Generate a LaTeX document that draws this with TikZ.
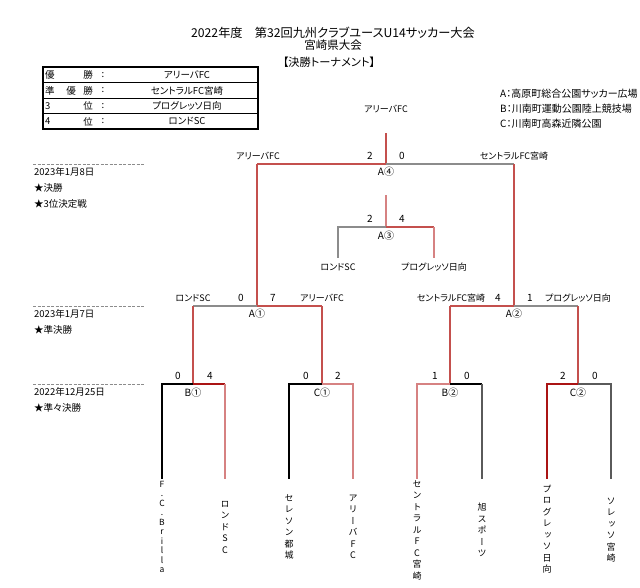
\documentclass[tikz,border=0pt]{standalone}
\usepackage{fontspec}
\setmainfont{Noto Sans CJK JP}[RawFeature={+palt}]
\newfontfamily\vfont{Noto Sans CJK JP}[RawFeature={+vert}]
\definecolor{wred}{RGB}{196,80,77}
\definecolor{lred}{RGB}{214,130,130}
\definecolor{dred}{RGB}{170,20,20}
\definecolor{lgray}{RGB}{140,140,140}
\definecolor{dgray}{RGB}{90,90,90}
\tikzset{
  br/.style={line width=1.3pt},
  lbl/.style={inner sep=0pt,font=\fontsize{9}{10}\selectfont},
  sc/.style={inner sep=0pt,font=\fontsize{10}{11}\selectfont},
  side/.style={inner sep=0pt,anchor=west,font=\fontsize{9.5}{11}\selectfont},
  tbl/.style={inner sep=0pt,font=\fontsize{9.5}{11}\selectfont},
  vname/.style={inner sep=0pt,align=center,font=\vfont\fontsize{9}{11.5}\selectfont},
  sep/.style={lgray,line width=0.8pt,dash pattern=on 3pt off 1.5pt}
}
\begin{document}
\begin{tikzpicture}[x=1pt,y=-1pt]
\useasboundingbox (0,0) rectangle (640,587);
% titles
\node[inner sep=0pt,font=\fontsize{12.2}{13}\selectfont] (t1) at (333,33) {2022年度　第32回九州クラブユースU14サッカー大会};
\node[inner sep=0pt,font=\fontsize{11.5}{13}\selectfont] (t2) at (333,45) {宮崎県大会};
\node[inner sep=0pt,font=\fontsize{11.2}{12}\selectfont] (t3) at (329,62) {【決勝トーナメント】};
% results table
\draw[line width=1.2pt] (43,67) rectangle (258,129);
\foreach \yy in {82.5,98,113.5} \draw[line width=0.6pt] (43,\yy) -- (258,\yy);
\node[tbl,anchor=west] (r1a) at (45,75) {優};
\node[tbl] (r1b) at (88,75) {勝};
\node[tbl] (r1c) at (103,75) {:};
\node[tbl] (r1d) at (187,75) {アリーバFC};
\node[tbl,anchor=west] (r2a) at (45,90.5) {準};
\node[tbl] (r2e) at (71,90.5) {優};
\node[tbl] (r2b) at (88,90.5) {勝};
\node[tbl] (r2c) at (103,90.5) {:};
\node[tbl] (r2d) at (187,90.5) {セントラルFC宮崎};
\node[tbl,anchor=west] (r3a) at (45,106) {3};
\node[tbl] (r3b) at (88,106) {位};
\node[tbl] (r3c) at (103,106) {:};
\node[tbl] (r3d) at (187,106) {プログレッソ日向};
\node[tbl,anchor=west] (r4a) at (45,121.5) {4};
\node[tbl] (r4b) at (88,121.5) {位};
\node[tbl] (r4c) at (103,121.5) {:};
\node[tbl] (r4d) at (187,121.5) {ロンドSC};
% legend
\node[side,font=\fontsize{10}{11}\selectfont] (lA) at (500,94) {A：高原町総合公園サッカー広場};
\node[side,font=\fontsize{10}{11}\selectfont] (lB) at (500,109) {B：川南町運動公園陸上競技場};
\node[side,font=\fontsize{10}{11}\selectfont] (lC) at (500,124) {C：川南町高森近隣公園};
% left column
\draw[sep] (33,164) -- (145,164);
\draw[sep] (33,306) -- (145,306);
\draw[sep] (33,384) -- (145,384);
\node[side] (d1) at (34,172) {2023年1月8日};
\node[side] (d1a) at (34,188) {★決勝};
\node[side] (d1b) at (34,204) {★3位決定戦};
\node[side] (d2) at (34,314) {2023年1月7日};
\node[side] (d2a) at (34,330) {★準決勝};
\node[side] (d3) at (34,392) {2022年12月25日};
\node[side] (d3a) at (34,408) {★準々決勝};
% bracket coordinates
\coordinate (Ftop) at (386,133);
\coordinate (F) at (386,164);
\coordinate (FL) at (257,164);
\coordinate (FR) at (514,164);
\coordinate (SL) at (257,306);
\coordinate (SLL) at (193,306);
\coordinate (SLR) at (322,306);
\coordinate (SR) at (514,306);
\coordinate (SRL) at (450,306);
\coordinate (SRR) at (578,306);
\coordinate (Q1) at (193,384); \coordinate (Q1L) at (162,384); \coordinate (Q1R) at (225,384);
\coordinate (Q2) at (322,384); \coordinate (Q2L) at (289,384); \coordinate (Q2R) at (353,384);
\coordinate (Q3) at (450,384); \coordinate (Q3L) at (417,384); \coordinate (Q3R) at (482,384);
\coordinate (Q4) at (578,384); \coordinate (Q4L) at (547,384); \coordinate (Q4R) at (611,384);
\coordinate (B1) at (162,479); \coordinate (B2) at (225,479);
\coordinate (B3) at (289,479); \coordinate (B4) at (353,479);
\coordinate (B5) at (417,479); \coordinate (B6) at (482,479);
\coordinate (B7) at (547,479); \coordinate (B8) at (611,479);
\coordinate (Ttop) at (386,195);
\coordinate (T) at (386,227);
\coordinate (TL) at (338,227);
\coordinate (TR) at (434,227);
\coordinate (TLb) at (338,258);
\coordinate (TRb) at (434,258);
% final
\draw[br,wred] (Ftop) -- (F);
\draw[br,wred] (F) -- (FL);
\draw[br,lgray] (F) -- (FR);
\draw[br,wred] (FL) -- (SL);
\draw[br,wred] (FR) -- (SR);
% semis
\draw[br,lgray] (SL) -- (SLL);
\draw[br,wred] (SL) -- (SLR);
\draw[br,wred] (SLL) -- (Q1);
\draw[br,wred] (SLR) -- (Q2);
\draw[br,wred] (SR) -- (SRL);
\draw[br,lgray] (SR) -- (SRR);
\draw[br,wred] (SRL) -- (Q3);
\draw[br,wred] (SRR) -- (Q4);
% quarter-finals
\draw[br,black] (Q1) -- (Q1L) -- (B1);
\draw[br,dred] (Q1) -- (Q1R);
\draw[br,lred] (Q1R) -- (B2);
\draw[br,black] (Q2) -- (Q2L) -- (B3);
\draw[br,lred] (Q2) -- (Q2R) -- (B4);
\draw[br,lred] (Q3) -- (Q3L) -- (B5);
\draw[br,black] (Q3) -- (Q3R);
\draw[br,dgray] (Q3R) -- (B6);
\draw[br,dred] (Q4) -- (Q4L) -- (B7);
\draw[br,dgray] (Q4) -- (Q4R) -- (B8);
% third place
\draw[br,lred] (Ttop) -- (T);
\draw[br,lgray] (T) -- (TL) -- (TLb);
\draw[br,wred] (T) -- (TR);
\draw[br,lred] (TR) -- (TRb);
% labels: final
\node[lbl] (champ) at (386,109) {アリーバFC};
\node[lbl] (fl) at (258,156) {アリーバFC};
\node[lbl] (fr) at (514,156) {セントラルFC宮崎};
\node[sc] (fs1) at (370,156) {2};
\node[sc] (fs2) at (402,156) {0};
\node[sc] (fm) at (386,172) {A④};
% third place
\node[sc] (ts1) at (370,219) {2};
\node[sc] (ts2) at (402,219) {4};
\node[sc] (tm) at (386,236) {A③};
\node[lbl] (tl) at (338,267) {ロンドSC};
\node[lbl] (tr) at (434,267) {プログレッソ日向};
% semis
\node[lbl] (sl1) at (193,298) {ロンドSC};
\node[lbl] (sl2) at (322,298) {アリーバFC};
\node[sc] (ss1) at (241,298) {0};
\node[sc] (ss2) at (273,298) {7};
\node[sc] (sm1) at (257,314) {A①};
\node[lbl] (sr1) at (451,298) {セントラルFC宮崎};
\node[lbl] (sr2) at (578,298) {プログレッソ日向};
\node[sc] (ss3) at (498,298) {4};
\node[sc] (ss4) at (530,298) {1};
\node[sc] (sm2) at (514,314) {A②};
% quarter scores
\node[sc] (q1a) at (178,376) {0};
\node[sc] (q1b) at (210,376) {4};
\node[sc] (q1m) at (193,393) {B①};
\node[sc] (q2a) at (306,376) {0};
\node[sc] (q2b) at (338,376) {2};
\node[sc] (q2m) at (322,393) {C①};
\node[sc] (q3a) at (435,376) {1};
\node[sc] (q3b) at (467,376) {0};
\node[sc] (q3m) at (450,393) {B②};
\node[sc] (q4a) at (563,376) {2};
\node[sc] (q4b) at (595,376) {0};
\node[sc] (q4m) at (578,393) {C②};
% team names (vertical)
\node[vname,font=\vfont\fontsize{8.5}{9.5}\selectfont] (n1) at (162,527) {F\\.\\C\\.\\B\\r\\i\\l\\l\\a};
\node[vname] (n2) at (225,527) {ロ\\ン\\ド\\S\\C};
\node[vname] (n3) at (289,527) {セ\\レ\\ソ\\ン\\都\\城};
\node[vname] (n4) at (353,527) {ア\\リ\\ー\\バ\\F\\C};
\node[vname] (n5) at (417,530) {セ\\ン\\ト\\ラ\\ル\\F\\C\\宮\\崎};
\node[vname] (n6) at (482,530) {旭\\ス\\ポ\\ー\\ツ};
\node[vname] (n7) at (547,529) {プ\\ロ\\グ\\レ\\ッ\\ソ\\日\\向};
\node[vname] (n8) at (611,530) {ソ\\レ\\ッ\\ソ\\宮\\崎};
\end{tikzpicture}
\end{document}
